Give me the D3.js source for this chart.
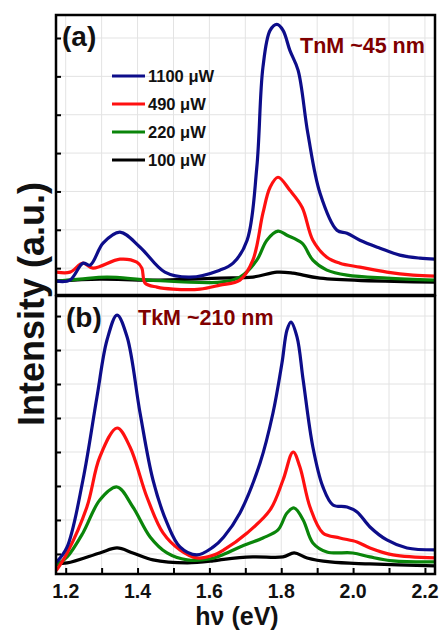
<!DOCTYPE html>
<html><head><meta charset="utf-8">
<script src="https://cdn.jsdelivr.net/npm/d3@7"></script>
<style>body{margin:0;background:#fff}svg{display:block}</style>
</head><body>
<script>
// ---------- DATA ----------
const seriesLabels = ["1100 \u03bcW", "490 \u03bcW", "220 \u03bcW", "100 \u03bcW"];
const seriesColors = ["#0d0d8a", "#ff1010", "#0a850a", "#000000"];

const xDomain = [1.173, 2.228];
const xMajorTicks = [1.2, 1.4, 1.6, 1.8, 2.0, 2.2];
const xTickLabels = ["1.2", "1.4", "1.6", "1.8", "2.0", "2.2"];
const xGridTicks = [1.2, 1.3, 1.4, 1.5, 1.6, 1.7, 1.8, 1.9, 2.0, 2.1, 2.2];
const yTicksA = [1, 2, 3, 4, 5, 6, 7];
const yTicksB = [1, 2, 3, 4, 5, 6, 7, 8];
const yDomainA = [0.3, 7.6];
const yDomainB = [0.41, 8.59];

// Panel (a): TnM ~45 nm
const a1100 = [[1.175,0.661],[1.212,0.688],[1.248,1.130],[1.268,1.078],[1.304,1.651],[1.351,1.938],[1.407,1.547],[1.476,0.896],[1.546,0.766],[1.629,0.948],[1.666,1.130],[1.705,1.729],[1.732,3.630],[1.749,6.234],[1.769,7.198],[1.788,7.354],[1.805,7.200],[1.824,6.677],[1.847,6.156],[1.874,4.516],[1.908,2.953],[1.955,1.990],[1.983,1.911],[2.019,1.729],[2.075,1.521],[2.130,1.339],[2.186,1.260],[2.228,1.234]];
const a490 = [[1.175,0.896],[1.212,0.896],[1.248,1.130],[1.276,1.000],[1.351,1.234],[1.398,1.156],[1.412,1.000],[1.421,0.609],[1.454,0.505],[1.499,0.453],[1.574,0.453],[1.629,0.557],[1.685,0.688],[1.721,1.208],[1.749,2.432],[1.769,3.109],[1.791,3.370],[1.824,3.031],[1.858,2.589],[1.888,1.729],[1.927,1.286],[1.963,1.130],[2.019,1.026],[2.094,0.896],[2.167,0.818],[2.228,0.792]];
const a220 = [[1.175,0.661],[1.240,0.714],[1.315,0.766],[1.435,0.688],[1.629,0.635],[1.685,0.766],[1.732,1.208],[1.760,1.729],[1.791,1.964],[1.816,1.859],[1.858,1.651],[1.888,1.208],[1.927,0.948],[1.983,0.818],[2.094,0.740],[2.228,0.688]];
const a100 = [[1.175,0.661],[1.295,0.714],[1.435,0.688],[1.629,0.740],[1.721,0.766],[1.788,0.896],[1.833,0.870],[1.908,0.740],[2.228,0.635]];

// Panel (b): TkM ~210 nm
const b1100 = [[1.175,0.765],[1.204,1.206],[1.248,3.176],[1.287,5.618],[1.315,7.294],[1.343,8.029],[1.371,7.382],[1.407,5.147],[1.443,3.176],[1.482,1.912],[1.518,1.206],[1.565,0.971],[1.610,1.200],[1.640,1.500],[1.685,2.206],[1.741,3.676],[1.777,5.147],[1.802,6.618],[1.816,7.588],[1.827,7.824],[1.844,7.382],[1.861,6.118],[1.888,4.147],[1.916,2.971],[1.944,2.441],[1.983,2.382],[2.011,2.235],[2.047,1.794],[2.094,1.412],[2.150,1.176],[2.228,1.118]];
const b490 = [[1.175,0.529],[1.204,1.029],[1.259,2.382],[1.295,3.853],[1.343,4.706],[1.379,4.147],[1.426,2.676],[1.471,1.618],[1.518,1.118],[1.565,0.882],[1.610,0.960],[1.640,1.120],[1.705,1.618],[1.769,2.294],[1.805,3.176],[1.833,4.000],[1.852,3.559],[1.880,2.382],[1.916,1.618],[1.963,1.471],[2.011,1.353],[2.047,1.176],[2.111,0.971],[2.228,0.882]];
const b220 = [[1.175,0.676],[1.204,0.912],[1.248,1.618],[1.295,2.588],[1.343,2.971],[1.387,2.382],[1.435,1.500],[1.482,1.029],[1.538,0.824],[1.600,0.850],[1.640,0.990],[1.685,1.206],[1.749,1.471],[1.791,1.706],[1.816,2.206],[1.836,2.353],[1.861,2.000],[1.888,1.324],[1.927,1.059],[1.999,1.029],[2.047,0.912],[2.111,0.794],[2.228,0.765]];
const b100 = [[1.175,0.735],[1.204,0.735],[1.295,1.029],[1.343,1.176],[1.387,1.029],[1.443,0.824],[1.538,0.735],[1.610,0.794],[1.640,0.840],[1.721,0.912],[1.805,0.912],[1.836,1.029],[1.872,0.882],[1.936,0.765],[2.047,0.706],[2.228,0.647]];

// ---------- DRAW ----------
const W = 440, H = 630;
const left = 56, right = 435;
const panelA = {top: 15, bottom: 295, domain: yDomainA, ticks: yTicksA, data: [a1100, a490, a220, a100], id: "a"};
const panelB = {top: 296, bottom: 574, domain: yDomainB, ticks: yTicksB, data: [b1100, b490, b220, b100], id: "b"};
const FONT = "'Liberation Sans', Arial, Helvetica, sans-serif";

const svg = d3.select("body").append("svg").attr("width", W).attr("height", H)
  .style("font-family", FONT);

const x = d3.scaleLinear().domain(xDomain).range([left, right]);

function drawPanel(p) {
  const y = d3.scaleLinear().domain(p.domain).range([p.bottom, p.top]);
  const g = svg.append("g");
  g.append("clipPath").attr("id", "clip" + p.id).append("rect")
    .attr("x", left).attr("y", p.top).attr("width", right - left).attr("height", p.bottom - p.top);
  g.selectAll(".vg").data(xGridTicks).join("line")
    .attr("x1", d => x(d)).attr("x2", d => x(d)).attr("y1", p.top).attr("y2", p.bottom)
    .attr("stroke", "#e3e3e3").attr("stroke-width", 1);
  g.selectAll(".hg").data(p.ticks).join("line")
    .attr("x1", left).attr("x2", right).attr("y1", d => y(d)).attr("y2", d => y(d))
    .attr("stroke", "#e3e3e3").attr("stroke-width", 1);
  const ax = g.append("g").attr("transform", `translate(${left},0)`)
    .call(d3.axisLeft(y).tickValues(p.ticks).tickSize(-5).tickFormat(""));
  ax.select(".domain").remove();
  ax.selectAll("line").attr("stroke", "#000").attr("stroke-width", 2);
  const line = d3.line().x(d => x(d[0])).y(d => y(d[1])).curve(d3.curveCatmullRom.alpha(0.5));
  const lg = g.append("g").attr("clip-path", `url(#clip${p.id})`);
  p.data.slice().reverse().forEach((s, i) => {
    const idx = p.data.length - 1 - i;
    lg.append("path").attr("d", line(s)).attr("fill", "none")
      .attr("stroke", seriesColors[idx]).attr("stroke-width", 3.2)
      .attr("stroke-linejoin", "round").attr("stroke-linecap", "round");
  });
  g.append("rect").attr("x", left).attr("y", p.top).attr("width", right - left).attr("height", p.bottom - p.top)
    .attr("fill", "none").attr("stroke", "#000").attr("stroke-width", 2.5);
  return y;
}

drawPanel(panelA);
drawPanel(panelB);

const bx = svg.append("g").attr("transform", `translate(0,${panelB.bottom})`)
  .call(d3.axisBottom(x).tickValues(xGridTicks).tickSize(-6).tickFormat(""));
bx.select(".domain").remove();
bx.selectAll("line").attr("stroke", "#000").attr("stroke-width", 2);
svg.selectAll(".xlab").data(xMajorTicks).join("text")
  .attr("x", d => x(d)).attr("y", 598).attr("text-anchor", "middle")
  .attr("font-size", 19.5).attr("font-weight", "bold").attr("fill", "#111")
  .text((d, i) => xTickLabels[i]);

svg.append("text").attr("x", 237).attr("y", 625).attr("text-anchor", "middle")
  .attr("font-size", 25).attr("font-weight", "bold").attr("fill", "#111").text("h\u03bd (eV)");
svg.append("text").attr("transform", "translate(44,304) rotate(-90)").attr("text-anchor", "middle")
  .attr("font-size", 36).attr("font-weight", "bold").attr("fill", "#111").text("Intensity (a.u.)");

svg.append("text").attr("x", 62).attr("y", 46).attr("font-size", 28).attr("font-weight", "bold").attr("fill", "#111").text("(a)");
svg.append("text").attr("x", 66).attr("y", 327).attr("font-size", 28).attr("font-weight", "bold").attr("fill", "#111").text("(b)");
svg.append("text").attr("x", 300).attr("y", 53).attr("font-size", 21.5).attr("font-weight", "bold").attr("fill", "#800000").text("TnM ~45 nm");
svg.append("text").attr("x", 138).attr("y", 325).attr("font-size", 21.5).attr("font-weight", "bold").attr("fill", "#800000").text("TkM ~210 nm");

const leg = svg.append("g");
seriesLabels.forEach((lab, i) => {
  const yy = 76 + i * 28;
  leg.append("line").attr("x1", 112).attr("x2", 145).attr("y1", yy).attr("y2", yy)
    .attr("stroke", seriesColors[i]).attr("stroke-width", 3.2);
  leg.append("text").attr("x", 148).attr("y", yy + 6).attr("font-size", 16.5).attr("font-weight", "bold")
    .attr("fill", "#111").text(lab);
});
</script>
</body></html>
